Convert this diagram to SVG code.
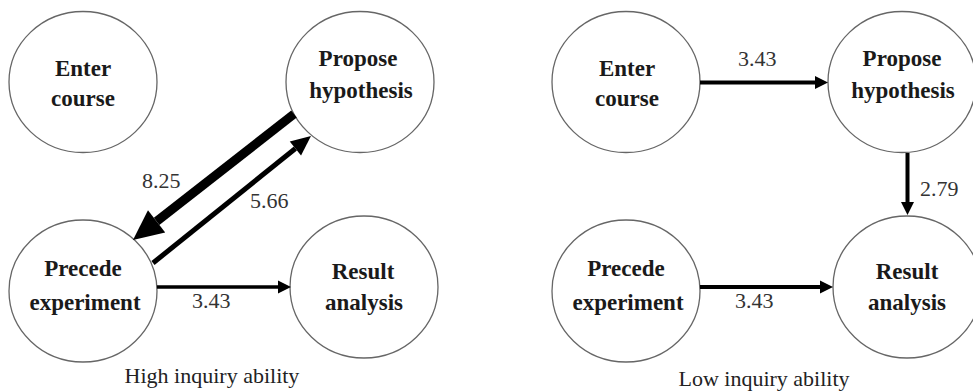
<svg xmlns="http://www.w3.org/2000/svg" width="973" height="391" viewBox="0 0 973 391">
<style>
text{font-family:"Liberation Serif","Times New Roman",serif}
.node{fill:#fff;stroke:#666;stroke-width:1.3}
.lbl{font-weight:bold;font-size:23px;fill:#1a1a1a;text-anchor:middle}
.num{font-size:22px;fill:#333;text-anchor:start}
.cap{font-size:22px;fill:#222;text-anchor:middle}
.edge{stroke:#000;fill:none;stroke-linecap:butt}
</style>
<defs>
<marker id="hBig" markerUnits="userSpaceOnUse" markerWidth="40" markerHeight="40" refX="0" refY="0" orient="auto" viewBox="0 -20 40 40" overflow="visible">
<path d="M0,-14 L30,0 L0,14 z" fill="#000"/>
</marker>
<marker id="hMed" markerUnits="userSpaceOnUse" markerWidth="30" markerHeight="30" refX="0" refY="0" orient="auto" viewBox="0 -15 30 30" overflow="visible">
<path d="M0,-9 L20,0 L0,9 z" fill="#000"/>
</marker>
<marker id="hSm" markerUnits="userSpaceOnUse" markerWidth="20" markerHeight="20" refX="0" refY="0" orient="auto" viewBox="0 -10 20 20" overflow="visible">
<path d="M0,-6.5 L13,0 L0,6.5 z" fill="#000"/>
</marker>
</defs>
<rect width="973" height="391" fill="#fff"/>
<g id="L-enter"><ellipse class="node" cx="83" cy="82" rx="74" ry="70.5"/><text class="lbl" x="83" y="76">Enter</text><text class="lbl" x="83" y="106">course</text></g>
<g id="L-propose"><ellipse class="node" cx="360" cy="82" rx="74" ry="70.5"/><text class="lbl" x="358" y="66">Propose</text><text class="lbl" x="361" y="98">hypothesis</text></g>
<g id="L-precede"><ellipse class="node" cx="83" cy="291" rx="74" ry="71"/><text class="lbl" x="83" y="276">Precede</text><text class="lbl" x="85" y="310">experiment</text></g>
<g id="L-result"><ellipse class="node" cx="364" cy="287" rx="74" ry="71"/><text class="lbl" x="363" y="279">Result</text><text class="lbl" x="364" y="310">analysis</text></g>

<g id="R-enter"><ellipse class="node" cx="626" cy="82" rx="74" ry="70.5"/><text class="lbl" x="627" y="76">Enter</text><text class="lbl" x="627" y="106">course</text></g>
<g id="R-propose"><ellipse class="node" cx="902" cy="82" rx="74" ry="70.5"/><text class="lbl" x="902" y="66">Propose</text><text class="lbl" x="903" y="98">hypothesis</text></g>
<g id="R-precede"><ellipse class="node" cx="626" cy="291" rx="74" ry="71"/><text class="lbl" x="626" y="276">Precede</text><text class="lbl" x="628" y="310">experiment</text></g>
<g id="R-result"><ellipse class="node" cx="907" cy="287" rx="74" ry="71"/><text class="lbl" x="907" y="279">Result</text><text class="lbl" x="907" y="310">analysis</text></g>

<g id="connectors">
<line class="edge" x1="294" y1="114" x2="156.6" y2="221.4" stroke-width="9" marker-end="url(#hBig)"/>
<line class="edge" x1="153" y1="263" x2="295.4" y2="148.5" stroke-width="5" marker-end="url(#hMed)"/>
<line class="edge" x1="157" y1="287" x2="278" y2="287" stroke-width="3.5" marker-end="url(#hSm)"/>
<line class="edge" x1="700" y1="82.5" x2="815" y2="82.5" stroke-width="4" marker-end="url(#hSm)"/>
<line class="edge" x1="907.5" y1="153" x2="907.5" y2="202" stroke-width="4" marker-end="url(#hSm)"/>
<line class="edge" x1="700" y1="287" x2="820" y2="287" stroke-width="4" marker-end="url(#hSm)"/>
<text class="num" x="142" y="188">8.25</text>
<text class="num" x="250" y="208">5.66</text>
<text class="num" x="192" y="308">3.43</text>
<text class="num" x="738" y="66">3.43</text>
<text class="num" x="920" y="196">2.79</text>
<text class="num" x="735" y="308">3.43</text>
</g>

<text class="cap" x="212" y="383">High inquiry ability</text>
<text class="cap" x="764" y="386">Low inquiry ability</text>
</svg>
